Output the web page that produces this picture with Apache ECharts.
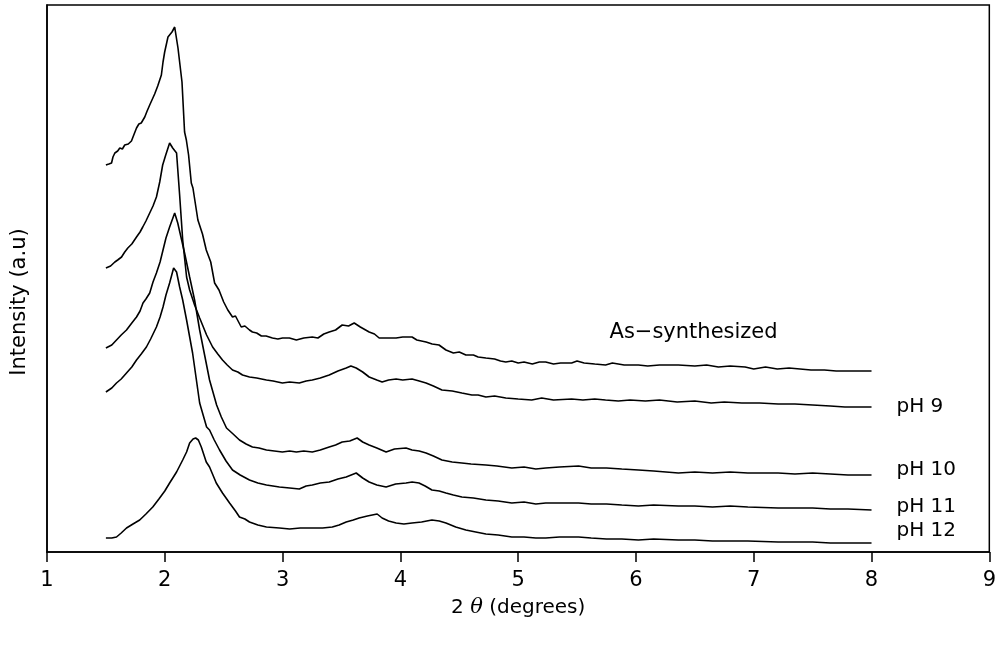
<!DOCTYPE html>
<html>
<head>
<meta charset="utf-8">
<script src="https://cdn.jsdelivr.net/npm/echarts@6/dist/echarts.min.js"></script>
<style>
html,body{margin:0;padding:0;background:#fff;}
#chart{width:999px;height:646px;}
</style>
</head>
<body>
<div id="chart"></div>
<script>
// 2θ (degrees) vs intensity (a.u., stacked offsets as drawn)
const seriesNames = ['As\u2212synthesized', 'pH 9', 'pH 10', 'pH 11', 'pH 12'];

const asSynthesized = [
  [1.50,387],[1.525,388],[1.548,389],[1.56,395],[1.576,399],[1.60,401],[1.618,404],[1.64,403],[1.66,407],
  [1.69,408],[1.717,411],[1.74,418],[1.76,424],[1.78,428],[1.80,429],[1.83,435],[1.85,441],[1.872,447],
  [1.914,458],[1.94,466],[1.971,477],[1.985,490],[1.999,500],[2.027,515],[2.061,520],[2.084,525],
  [2.112,504],[2.146,470],[2.168,420],[2.183,412],[2.202,397],[2.225,369],[2.239,364],[2.281,332],
  [2.32,318],[2.352,302],[2.39,290],[2.423,269],[2.46,262],[2.50,250],[2.535,242],[2.575,235],
  [2.60,236],[2.649,225],[2.68,226],[2.719,222],[2.744,220],[2.78,219],[2.82,216],[2.86,216],[2.914,214],
  [2.96,213],[3.0,214],[3.058,214],[3.117,212],[3.18,214],[3.252,215],[3.30,214],[3.35,218],[3.396,220],
  [3.45,222],[3.506,227],[3.56,226],[3.608,229],[3.66,225],[3.735,220],[3.78,218],[3.82,214],
  [3.88,214],[3.964,214],[4.02,215],[4.099,215],[4.14,212],[4.218,210],[4.27,208],[4.328,207],[4.387,202],
  [4.45,199],[4.50,200],[4.556,197],[4.62,197],[4.66,195],[4.726,194],[4.80,193],[4.85,191],[4.895,190],
  [4.946,191],[5.0,189],[5.05,190],[5.12,188],[5.18,190],[5.234,190],[5.30,188],[5.36,189],[5.454,189],
  [5.50,191],[5.56,189],[5.65,188],[5.742,187],[5.80,189],[5.90,187],[6.021,187],[6.10,186],[6.20,187],
  [6.36,187],[6.50,186],[6.60,187],[6.70,185],[6.80,186],[6.927,185],[7.0,183],[7.10,185],[7.20,183],
  [7.30,184],[7.486,182],[7.60,182],[7.70,181],[7.774,181],[8.0,181]
];

const pH9 = [
  [1.50,284],[1.54,286],[1.576,290],[1.60,292],[1.633,295],[1.66,300],[1.686,304],[1.72,308],[1.76,315],
  [1.79,320],[1.813,325],[1.84,331],[1.872,339],[1.90,346],[1.929,355],[1.957,370],[1.982,387],[2.008,397],
  [2.041,409],[2.067,404],[2.10,399],[2.126,357],[2.152,312],[2.185,275],[2.211,262],[2.253,247],
  [2.296,234],[2.355,217],[2.406,205],[2.45,198],[2.49,192],[2.53,187],[2.575,182],[2.62,180],[2.66,177],
  [2.719,175],[2.78,174],[2.863,172],[2.92,171],[2.998,169],[3.06,170],[3.142,169],[3.20,171],[3.252,172],
  [3.32,174],[3.396,177],[3.47,181],[3.54,184],[3.58,186],[3.625,184],[3.68,180],[3.735,175],[3.80,172],
  [3.845,170],[3.90,172],[3.964,173],[4.02,172],[4.099,173],[4.16,171],[4.218,169],[4.28,166],[4.353,162],
  [4.44,161],[4.522,159],[4.607,157],[4.66,157],[4.726,155],[4.80,156],[4.895,154],[5.0,153],[5.115,152],
  [5.20,154],[5.30,152],[5.454,153],[5.55,152],[5.65,153],[5.742,152],[5.85,151],[5.95,152],[6.08,151],
  [6.20,152],[6.35,150],[6.50,151],[6.639,149],[6.75,150],[6.90,149],[7.05,149],[7.207,148],[7.35,148],
  [7.50,147],[7.65,146],[7.774,145],[8.0,145]
];

const pH10 = [
  [1.50,204],[1.55,207],[1.59,212],[1.63,217],[1.675,222],[1.72,229],[1.76,235],[1.79,241],[1.815,249],
  [1.84,253],[1.872,259],[1.90,270],[1.929,279],[1.96,290],[1.985,302],[2.01,314],[2.041,325],[2.084,339],
  [2.11,329],[2.143,312],[2.168,299],[2.211,275],[2.253,252],[2.296,222],[2.338,197],[2.38,172],
  [2.44,147],[2.48,135],[2.524,124],[2.58,118],[2.634,112],[2.69,108],[2.744,105],[2.80,104],[2.863,102],
  [2.93,101],[2.998,100],[3.06,101],[3.117,100],[3.18,101],[3.252,100],[3.32,102],[3.396,105],[3.45,107],
  [3.506,110],[3.57,111],[3.633,114],[3.68,110],[3.735,107],[3.80,104],[3.879,100],[3.95,103],[4.048,104],
  [4.099,102],[4.16,101],[4.218,99],[4.28,96],[4.353,92],[4.44,90],[4.522,89],[4.60,88],[4.726,87],
  [4.82,86],[4.946,84],[5.05,85],[5.15,83],[5.234,84],[5.35,85],[5.513,86],[5.62,84],[5.75,84],
  [5.88,83],[6.021,82],[6.15,81],[6.36,79],[6.50,80],[6.65,79],[6.80,80],[6.95,79],[7.207,79],
  [7.35,78],[7.50,79],[7.65,78],[7.80,77],[8.0,77]
];

const pH11 = [
  [1.50,160],[1.55,164],[1.59,169],[1.63,173],[1.675,179],[1.72,185],[1.76,192],[1.80,198],[1.844,205],
  [1.88,213],[1.929,225],[1.96,235],[1.985,245],[2.01,257],[2.041,269],[2.075,284],[2.10,280],[2.126,265],
  [2.152,252],[2.185,232],[2.236,199],[2.296,149],[2.355,125],[2.38,122],[2.42,112],[2.465,102],
  [2.52,91],[2.575,82],[2.64,77],[2.719,72],[2.79,69],[2.863,67],[2.973,65],[3.06,64],[3.142,63],
  [3.20,66],[3.252,67],[3.32,69],[3.396,70],[3.47,73],[3.54,75],[3.625,79],[3.68,74],[3.735,70],
  [3.80,67],[3.879,65],[3.96,68],[4.048,69],[4.10,70],[4.158,69],[4.21,66],[4.268,62],[4.33,61],
  [4.387,59],[4.45,57],[4.522,55],[4.62,54],[4.726,52],[4.83,51],[4.946,49],[5.05,50],[5.15,48],
  [5.234,49],[5.35,49],[5.513,49],[5.62,48],[5.75,48],[5.88,47],[6.021,46],[6.15,47],[6.36,46],
  [6.50,46],[6.65,45],[6.80,46],[6.95,45],[7.207,44],[7.35,44],[7.50,44],[7.65,43],[7.80,43],[8.0,42]
];

const pH12 = [
  [1.50,14],[1.55,14],[1.59,15],[1.63,19],[1.675,24],[1.73,28],[1.787,32],[1.84,38],[1.898,45],
  [1.95,53],[2.0,61],[2.041,69],[2.10,80],[2.152,92],[2.185,100],[2.211,109],[2.24,113],[2.262,114],
  [2.285,112],[2.31,105],[2.352,90],[2.38,85],[2.437,69],[2.49,59],[2.55,49],[2.60,41],[2.634,35],
  [2.68,33],[2.719,30],[2.79,27],[2.863,25],[2.973,24],[3.06,23],[3.15,24],[3.252,24],[3.34,24],
  [3.422,25],[3.48,27],[3.54,30],[3.60,32],[3.65,34],[3.72,36],[3.803,38],[3.845,34],[3.90,31],
  [3.964,29],[4.03,28],[4.099,29],[4.18,30],[4.268,32],[4.33,31],[4.387,29],[4.47,25],[4.556,22],
  [4.64,20],[4.726,18],[4.83,17],[4.946,15],[5.05,15],[5.15,14],[5.234,14],[5.35,15],[5.513,15],
  [5.62,14],[5.75,13],[5.88,13],[6.021,12],[6.15,13],[6.36,12],[6.50,12],[6.65,11],[6.80,11],
  [6.95,11],[7.207,10],[7.35,10],[7.50,10],[7.65,9],[7.80,9],[8.0,9]
];

const xTicks = [1, 2, 3, 4, 5, 6, 7, 8, 9];

const FONT = '"DejaVu Sans", sans-serif';
const chart = echarts.init(document.getElementById('chart'), null, {renderer: 'canvas'});

const labelOffsets = [[-262, -38], [25, 0], [25, -5], [25, -3], [25, -12]];
const allData = [asSynthesized, pH9, pH10, pH11, pH12];

const series = allData.map((d, i) => ({
  name: seriesNames[i],
  type: 'line',
  data: d,
  showSymbol: false,
  symbol: 'none',
  smooth: false,
  lineStyle: {color: '#000', width: 1.6},
  silent: true,
  endLabel: {
    show: true,
    formatter: seriesNames[i],
    distance: 0,
    offset: labelOffsets[i],
    color: '#000',
    fontFamily: FONT,
    fontSize: i === 0 ? 21 : 20,
    align: 'left',
    verticalAlign: 'middle'
  }
}));

chart.setOption({
  animation: false,
  backgroundColor: '#fff',
  grid: {left: 47, right: 6, top: 5, bottom: 94, show: true, borderColor: '#000', borderWidth: 1.5, backgroundColor: 'transparent'},
  graphic: [{
    type: 'text',
    x: 20,
    y: 302,
    rotation: Math.PI / 2,
    style: {
      text: 'Intensity (a.u)',
      fill: '#000',
      font: '21px "DejaVu Sans", sans-serif',
      align: 'center',
      verticalAlign: 'middle'
    }
  }],
  xAxis: {
    type: 'value',
    min: xTicks[0],
    max: xTicks[xTicks.length - 1],
    interval: 1,
    name: '2 {t|θ} (degrees)',
    nameLocation: 'middle',
    nameGap: 45,
    nameTextStyle: {
      color: '#000', fontFamily: FONT, fontSize: 20,
      rich: {t: {fontStyle: 'italic', fontFamily: '"DejaVu Serif", serif', fontSize: 21, color: '#000'}}
    },
    axisLine: {show: true, lineStyle: {color: '#000', width: 1.5}},
    axisTick: {show: true, inside: false, length: 10, lineStyle: {color: '#000', width: 1.5}},
    axisLabel: {color: '#000', fontFamily: FONT, fontSize: 21, margin: 18},
    splitLine: {show: false}
  },
  yAxis: {
    type: 'value',
    min: 0,
    max: 547,
    axisLine: {show: true, lineStyle: {color: '#000', width: 1.5}},
    axisTick: {show: false},
    axisLabel: {show: false},
    splitLine: {show: false}
  },
  series: series
});
</script>
</body>
</html>
